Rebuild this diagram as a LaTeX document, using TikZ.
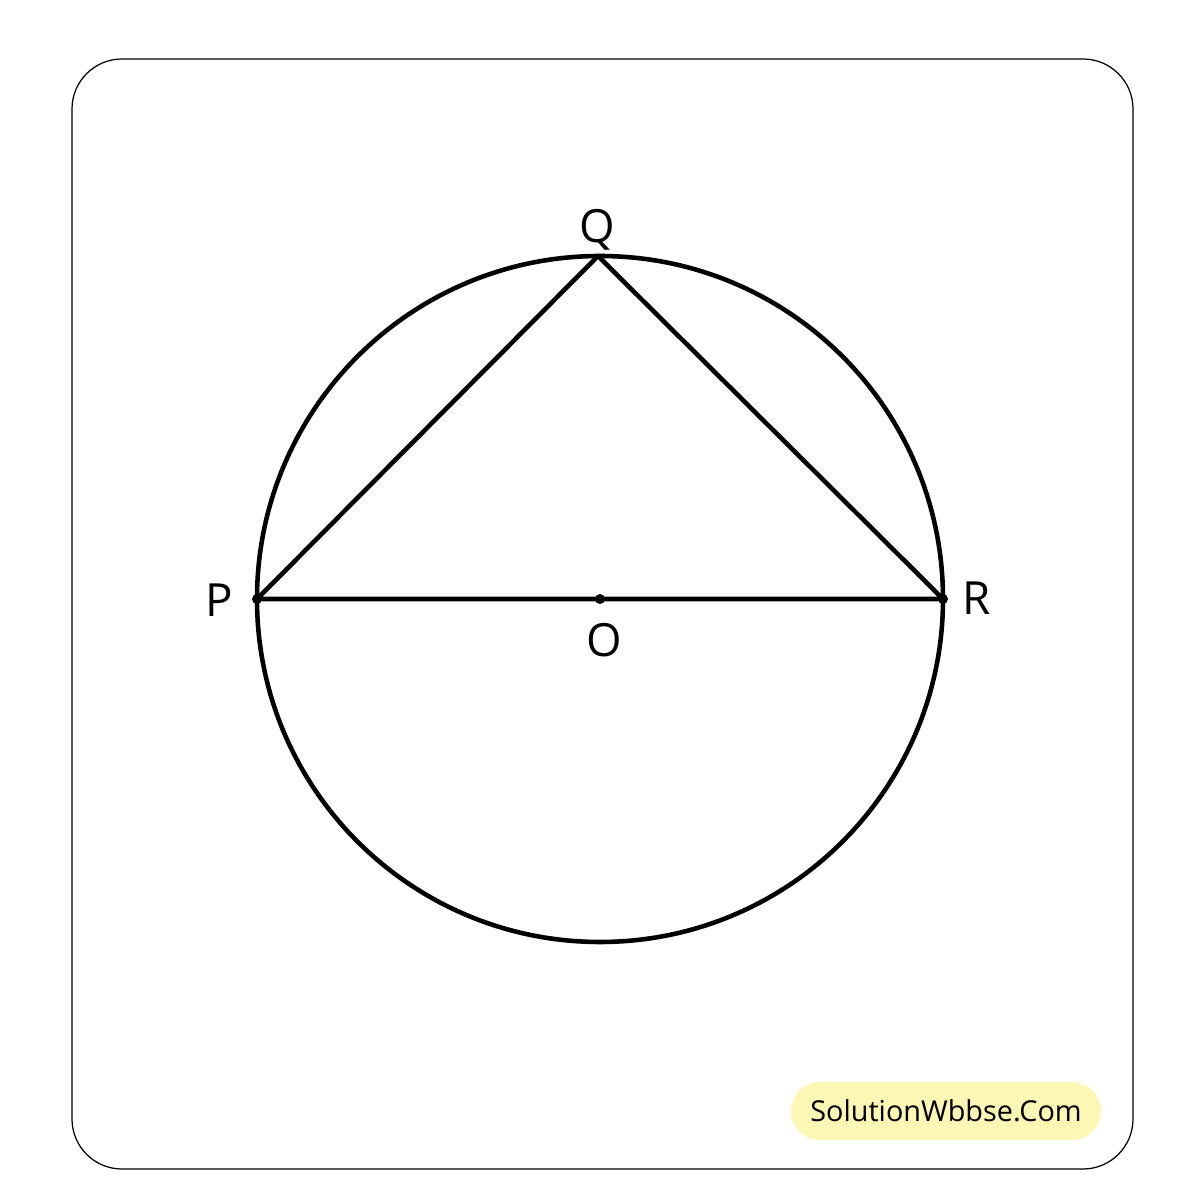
\documentclass[tikz,border=0pt]{standalone}
\usepackage{fontspec}
\setmainfont{Open Sans}
\definecolor{badgeyellow}{HTML}{FCF7B4}
\tikzset{
  lbl/.style={font=\fontsize{13}{15}\selectfont},
  geo/.style={line width=1.3pt},
}
\begin{document}
\begin{tikzpicture}
  \useasboundingbox (0, 0) rectangle (12, 12);
  \draw[line width=0.35pt, rounded corners=0.5cm] (0.72, 0.31) rectangle (11.33, 11.41);

  \coordinate (O) at (6, 6.01);
  \coordinate (P) at (2.57, 6.01);
  \coordinate (R) at (9.43, 6.01);
  \coordinate (Q) at (5.98, 9.44);

  \draw[geo] (O) circle (3.43);
  \draw[geo, line join=round] (P) -- (Q) -- (R) -- cycle;

  \fill (P) circle (0.05);
  \fill (O) circle (0.05);
  \fill (R) circle (0.05);

  \node[lbl] (Qlbl) at (5.97, 9.70) {Q};
  \node[lbl] (Plbl) at (2.19, 6.00) {P};
  \node[lbl] (Rlbl) at (9.77, 6.02) {R};
  \node[lbl] (Olbl) at (6.04, 5.60) {O};

  \node[fill=badgeyellow, rounded corners=0.29cm, minimum width=3.1cm, minimum height=0.58cm,
        font=\fontsize{8.2}{10}\selectfont] (badge) at (9.46, 0.89) {SolutionWbbse.Com};
\end{tikzpicture}
\end{document}
